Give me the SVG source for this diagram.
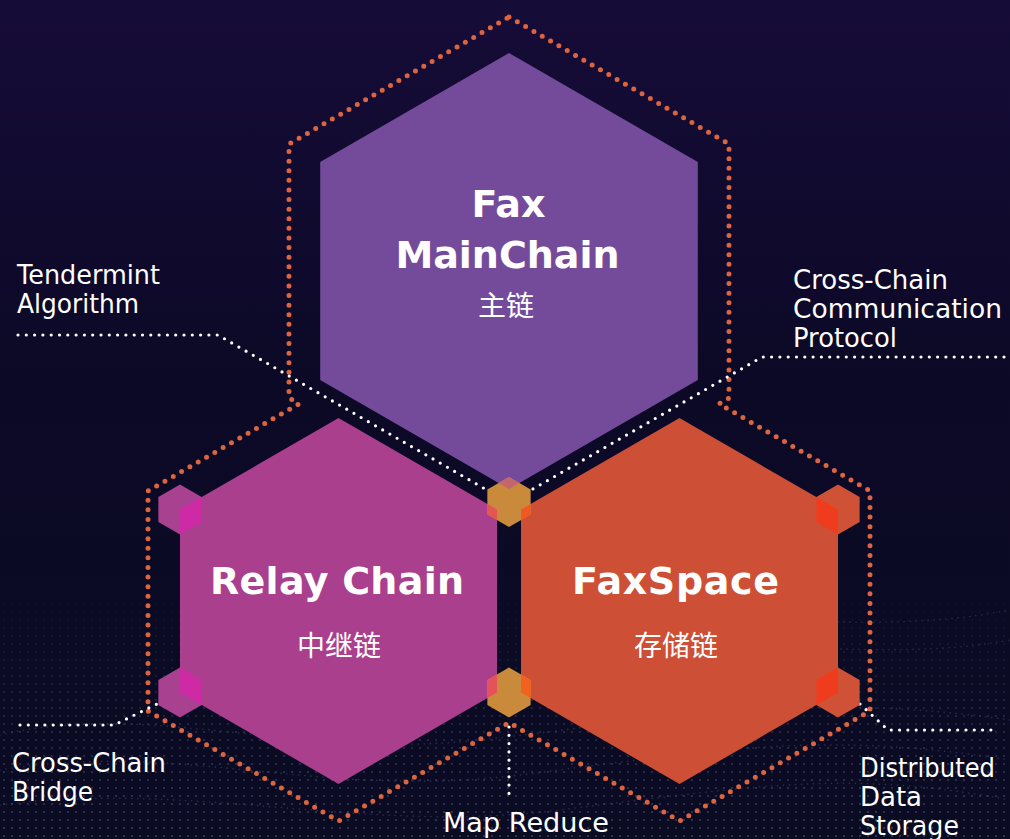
<svg xmlns="http://www.w3.org/2000/svg" width="1010" height="839" viewBox="0 0 1010 839">
  <defs>
    <linearGradient id="bg" x1="0" y1="0" x2="0" y2="1">
      <stop offset="0" stop-color="#160c38"/>
      <stop offset="0.45" stop-color="#0c0926"/>
      <stop offset="1" stop-color="#0a0c22"/>
    </linearGradient>
    <pattern id="dots" width="8" height="8" patternUnits="userSpaceOnUse">
      <circle cx="4" cy="4" r="1.1" fill="#5a5f8c"/>
    </pattern>
    <linearGradient id="fade" x1="0" y1="0" x2="0" y2="1">
      <stop offset="0" stop-color="#fff" stop-opacity="0"/>
      <stop offset="0.5" stop-color="#fff" stop-opacity="0.35"/>
      <stop offset="1" stop-color="#fff" stop-opacity="0.6"/>
    </linearGradient>
    <mask id="fadeMask">
      <rect x="0" y="580" width="1010" height="259" fill="url(#fade)"/>
    </mask>
    <clipPath id="cA"><polygon points="180,484.5 201.65,497 201.65,522 180,534.5 158.35,522 158.35,497"/></clipPath>
    <clipPath id="cB"><polygon points="180,667.5 201.65,680 201.65,705 180,717.5 158.35,705 158.35,680"/></clipPath>
    <clipPath id="cC"><polygon points="838,484.5 859.65,497 859.65,522 838,534.5 816.35,522 816.35,497"/></clipPath>
    <clipPath id="cD"><polygon points="838,667.5 859.65,680 859.65,705 838,717.5 816.35,705 816.35,680"/></clipPath>
    <clipPath id="cE"><polygon points="509,477 530.65,489.5 530.65,514.5 509,527 487.35,514.5 487.35,489.5"/></clipPath>
    <clipPath id="cF"><polygon points="509,667.5 530.65,680 530.65,705 509,717.5 487.35,705 487.35,680"/></clipPath>
    <style>
      .outline { fill: none; stroke: #dc6540; stroke-width: 5; stroke-linecap: round; stroke-linejoin: round; stroke-dasharray: 0 9.6; }
      .wdot { fill: none; stroke: #ffffff; stroke-width: 3.2; stroke-linecap: round; stroke-dasharray: 0 8.3; }
      .title { font-family: "DejaVu Sans", "Liberation Sans", sans-serif; font-weight: bold; font-size: 38px; fill: #ffffff; text-anchor: middle; }
      .cn { font-family: "Noto Sans CJK SC", sans-serif; font-size: 28px; fill: #ffffff; text-anchor: middle; }
      .lbl { font-family: "DejaVu Sans", "Liberation Sans", sans-serif; font-size: 26px; fill: #ffffff; }
      .wave { fill: none; stroke: #474c7c; stroke-width: 1.6; stroke-dasharray: 0 6; stroke-linecap: round; opacity: 0.55; }
    </style>
  </defs>

  <!-- background -->
  <rect x="0" y="0" width="1010" height="839" fill="url(#bg)"/>
  <rect x="0" y="580" width="1010" height="259" fill="url(#dots)" mask="url(#fadeMask)"/>
  <g id="waves">
    <path class="wave" d="M0 735 C 150 700 300 760 480 740 S 800 690 1010 720"/>
    <path class="wave" d="M0 770 C 180 740 320 800 520 775 S 820 730 1010 760"/>
    <path class="wave" d="M0 805 C 200 780 360 835 560 810 S 850 770 1010 800"/>
    <path class="wave" d="M600 640 C 720 600 860 640 1010 610"/>
    <path class="wave" d="M620 660 C 740 630 880 665 1010 640"/>
  </g>

  <!-- connectors -->
  <g id="connectors">
    <path class="outline" d="M509 17 L729 144 L729 398 L719 403.8 L870 491 L870 711 L679.5 821 L509 722.6 L338.5 821 L148 711 L148 491 L299 403.8 L289 398 L289 144 Z"/>
    <path class="wdot" d="M18 335 H218 L486 489.5"/>
    <path class="wdot" d="M1004 357 H762 L532 489.5"/>
    <path class="wdot" d="M509 727 V795"/>
    <path class="wdot" d="M20 725 H114 L157 704"/>
    <path class="wdot" d="M860 704 L888 730 H996"/>
  </g>

  <!-- main hexagons -->
  <g id="node-mainchain">
    <polygon points="509,53 697.8,162 697.8,380 509,489 320.2,380 320.2,162" fill="#744b9b"/>
    <text class="title" x="508.5" y="217">Fax</text>
    <text class="title" x="507.5" y="268">MainChain</text>
    <text class="cn" x="506" y="316">主链</text>
  </g>
  <g id="node-relay">
    <polygon points="338.5,418 497,509.5 497,692.5 338.5,784 180,692.5 180,509.5" fill="#a93f8d"/>
    <text class="title" x="337" y="594" textLength="254">Relay Chain</text>
    <text class="cn" x="339" y="656">中继链</text>
  </g>
  <g id="node-faxspace">
    <polygon points="679.5,418 838,509.5 838,692.5 679.5,784 521,692.5 521,509.5" fill="#cd4f36"/>
    <text class="title" x="675.5" y="594" textLength="207">FaxSpace</text>
    <text class="cn" x="676" y="656">存储链</text>
  </g>

  <!-- small junction hexagons -->
  <g id="hex-relay-top">
    <polygon points="180,484.5 201.65,497 201.65,522 180,534.5 158.35,522 158.35,497" fill="#a8418f"/>
    <polygon clip-path="url(#cA)" points="338.5,418 497,509.5 497,692.5 338.5,784 180,692.5 180,509.5" fill="#cf2aa6"/>
  </g>
  <g id="hex-relay-bottom">
    <polygon points="180,667.5 201.65,680 201.65,705 180,717.5 158.35,705 158.35,680" fill="#a8418f"/>
    <polygon clip-path="url(#cB)" points="338.5,418 497,509.5 497,692.5 338.5,784 180,692.5 180,509.5" fill="#cf2aa6"/>
  </g>
  <g id="hex-space-top">
    <polygon points="838,484.5 859.65,497 859.65,522 838,534.5 816.35,522 816.35,497" fill="#cf5236"/>
    <polygon clip-path="url(#cC)" points="679.5,418 838,509.5 838,692.5 679.5,784 521,692.5 521,509.5" fill="#f03c1e"/>
  </g>
  <g id="hex-space-bottom">
    <polygon points="838,667.5 859.65,680 859.65,705 838,717.5 816.35,705 816.35,680" fill="#cf5236"/>
    <polygon clip-path="url(#cD)" points="679.5,418 838,509.5 838,692.5 679.5,784 521,692.5 521,509.5" fill="#f03c1e"/>
  </g>
  <g id="hex-center">
    <polygon points="509,477 530.65,489.5 530.65,514.5 509,527 487.35,514.5 487.35,489.5" fill="#c98a3c"/>
    <polygon clip-path="url(#cE)" points="509,53 697.8,162 697.8,380 509,489 320.2,380 320.2,162" fill="#c4676c"/>
    <polygon clip-path="url(#cE)" points="338.5,418 497,509.5 497,692.5 338.5,784 180,692.5 180,509.5" fill="#e2574f"/>
    <polygon clip-path="url(#cE)" points="679.5,418 838,509.5 838,692.5 679.5,784 521,692.5 521,509.5" fill="#f05a22"/>
  </g>
  <g id="hex-bottom">
    <polygon points="509,667.5 530.65,680 530.65,705 509,717.5 487.35,705 487.35,680" fill="#c98a3c"/>
    <polygon clip-path="url(#cF)" points="338.5,418 497,509.5 497,692.5 338.5,784 180,692.5 180,509.5" fill="#e6525a"/>
    <polygon clip-path="url(#cF)" points="679.5,418 838,509.5 838,692.5 679.5,784 521,692.5 521,509.5" fill="#f2621e"/>
  </g>

  <!-- labels -->
  <g id="label-tendermint">
    <text class="lbl" x="17" y="284" textLength="143" lengthAdjust="spacingAndGlyphs">Tendermint</text>
    <text class="lbl" x="17" y="313" textLength="122" lengthAdjust="spacingAndGlyphs">Algorithm</text>
  </g>
  <g id="label-protocol">
    <text class="lbl" x="793" y="289" textLength="155" lengthAdjust="spacingAndGlyphs">Cross-Chain</text>
    <text class="lbl" x="793" y="318" textLength="209" lengthAdjust="spacingAndGlyphs">Communication</text>
    <text class="lbl" x="793" y="347" textLength="104" lengthAdjust="spacingAndGlyphs">Protocol</text>
  </g>
  <g id="label-bridge">
    <text class="lbl" x="12" y="772" textLength="154" lengthAdjust="spacingAndGlyphs">Cross-Chain</text>
    <text class="lbl" x="12" y="801" textLength="81" lengthAdjust="spacingAndGlyphs">Bridge</text>
  </g>
  <g id="label-mapreduce">
    <text class="lbl" x="443" y="832" textLength="166" lengthAdjust="spacingAndGlyphs">Map Reduce</text>
  </g>
  <g id="label-storage">
    <text class="lbl" x="860" y="777" textLength="135" lengthAdjust="spacingAndGlyphs">Distributed</text>
    <text class="lbl" x="860" y="806" textLength="62" lengthAdjust="spacingAndGlyphs">Data</text>
    <text class="lbl" x="860" y="835" textLength="99" lengthAdjust="spacingAndGlyphs">Storage</text>
  </g>
</svg>
